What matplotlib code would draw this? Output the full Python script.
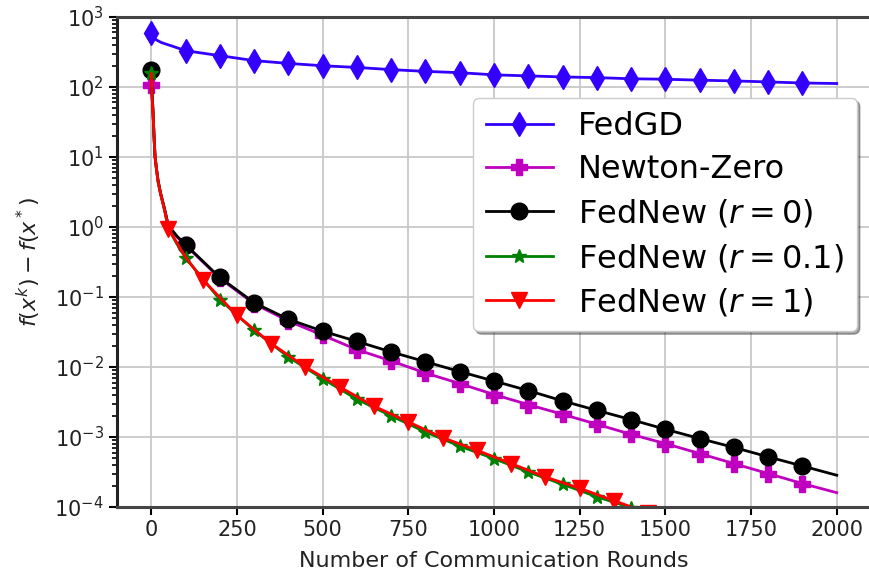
import numpy as np
import matplotlib
matplotlib.use("Agg")
import matplotlib.pyplot as plt

# values (log-scale y)
fedgd_x = [0, 5, 15, 30, 60] + list(range(100, 2001, 100))
fedgd_y = [586, 520, 470, 430, 385,
           330, 280, 238, 217, 201, 190, 177, 167, 160, 149,
           144, 139, 136, 131, 129, 125, 122, 118, 114, 112]

early_x = [0, 2, 5, 8, 11, 15, 20, 27, 39, 50, 75]
newton_x = early_x + list(range(100, 2001, 100))
newton_y = [107, 75, 44, 20, 10.2, 6.9, 4.5, 3.05, 1.77, 1.0, 0.72,
            0.55, 0.185, 0.080, 0.0454, 0.0284, 0.0177, 0.0122, 0.0082, 0.0058, 0.00404,
            0.0029, 0.00211, 0.00152, 0.00109, 0.000805, 0.00058, 0.000417, 0.00030, 0.000216, 0.00016]

r0_x = early_x + list(range(100, 2001, 100))
r0_y = [173, 90, 48, 21, 10.5, 7.0, 4.6, 3.1, 1.8, 1.05, 0.74,
        0.56, 0.19, 0.083, 0.048, 0.0325, 0.0232, 0.0164, 0.0119, 0.0086, 0.0063,
        0.0046, 0.00328, 0.0024, 0.00177, 0.00129, 0.00095, 0.00071, 0.00052, 0.000385, 0.000284]

r01_x = early_x + list(range(100, 1501, 100))
r01_y = [160, 85, 45, 20, 10, 6.8, 4.4, 3.0, 1.73, 0.95, 0.57,
         0.365, 0.092, 0.0334, 0.0139, 0.0068, 0.00346, 0.0020, 0.00118, 0.00074, 0.00049,
         0.000316, 0.000211, 0.00014, 0.0000975, 0.000068]

r1_x = [0, 2, 5, 8, 11, 15, 20, 27, 39, 50, 100] + list(range(150, 1551, 100))
r1_y = [155, 85, 45, 20, 10, 6.8, 4.4, 3.0, 1.73, 0.95, 0.37,
        0.177, 0.0548, 0.0216, 0.010, 0.00518, 0.00275, 0.00164, 0.00098, 0.000646, 0.000417,
        0.000268, 0.000185, 0.000123, 0.000082, 0.000055]

xticks = [0, 250, 500, 750, 1000, 1250, 1500, 1750, 2000]


def marks(xs, offset=0, last=1900):
    # marker every 100 rounds, starting at offset
    return [i for i, x in enumerate(xs) if x >= offset and (x - offset) % 100 == 0 and x <= last]


fig = plt.figure(figsize=(8.69, 5.75), dpi=100)
ax = fig.add_axes([0.1346, 0.1183, 0.8677, 0.8522])

lw = 2.0
ax.plot(fedgd_x, fedgd_y, color="#3300ff", marker="d", markersize=12, lw=lw,
        markevery=marks(fedgd_x), label="FedGD")
ax.plot(newton_x, newton_y, color="m", marker="P", markersize=11, lw=lw,
        markevery=marks(newton_x), label="Newton-Zero")
ax.plot(r0_x, r0_y, color="k", marker="o", markersize=12, lw=lw,
        markevery=marks(r0_x), label="FedNew ($r=0$)")
ax.plot(r01_x, r01_y, color="g", marker="*", markersize=10, lw=lw,
        markevery=marks(r01_x), label="FedNew ($r=0.1$)")
ax.plot(r1_x, r1_y, color="r", marker="v", markersize=12, lw=lw,
        markevery=marks(r1_x, 50), label="FedNew ($r=1$)")

ax.set_yscale("log")
ax.set_xlim(-100, 2100)
ax.set_ylim(1e-4, 1e3)
ax.set_xticks(xticks)
ax.tick_params(labelsize=15, width=1.5, length=6, labelcolor="#222222")
ax.tick_params(which="minor", width=1.2, length=3.5)
ax.grid(True, which="major", color="#c8c8c8", lw=1.3)
ax.set_axisbelow(True)
for side in ["left", "bottom", "top"]:
    ax.spines[side].set_linewidth(2.2)
    ax.spines[side].set_color("#444444")
ax.spines["left"].set_color("#222222")
ax.spines["right"].set_visible(False)

ax.set_xlabel("Number of Communication Rounds", fontsize=16, labelpad=8, color="#222222")
ax.set_ylabel("$f(x^k) - f(x^*)$", fontsize=16, labelpad=8, color="#222222")

ax.legend(loc="upper right", bbox_to_anchor=(0.9814, 0.8347), borderaxespad=0,
          fontsize=23, shadow=True, handlelength=2.1, labelspacing=0.39)

fig.savefig("out.png", dpi=100)
